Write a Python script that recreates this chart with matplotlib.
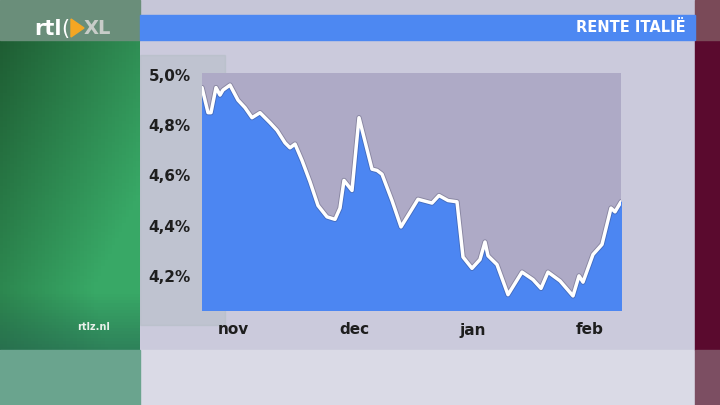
import numpy as np
import matplotlib.pyplot as plt
from matplotlib.patches import Rectangle, Polygon
from matplotlib.ticker import FuncFormatter

# Italian 10y rate (x in days from start of window)
days = [0, 1.5, 2.25, 3.5, 4.5, 5.25, 7, 9, 10.75, 12.5, 14.5, 17, 18.75,
        20.75, 22, 23.25, 25, 27, 29, 31.25, 33.25, 34.5, 35.5, 37.5, 39.25,
        42.5, 43.75, 45, 47.5, 49.75, 54, 57.5, 59.25, 61.5, 63.75, 65.25,
        67.5, 69.5, 70.75, 71.5, 73.75, 76.5, 80, 82.75, 84.75, 86.5, 89.5,
        92.75, 94.25, 95.25, 97.75, 100, 102.25, 103.25, 104.75]
rente = [4.95, 4.85, 4.85, 4.95, 4.92, 4.94, 4.96, 4.90, 4.87, 4.83, 4.85,
         4.81, 4.78, 4.73, 4.71, 4.725, 4.66, 4.575, 4.48, 4.435, 4.425, 4.47,
         4.58, 4.54, 4.83, 4.625, 4.62, 4.605, 4.50, 4.395, 4.505, 4.49, 4.52,
         4.50, 4.495, 4.275, 4.23, 4.265, 4.335, 4.28, 4.245, 4.125, 4.215,
         4.185, 4.15, 4.215, 4.18, 4.12, 4.20, 4.175, 4.285, 4.325, 4.47,
         4.455, 4.495]

month_pos = [7.75, 38, 67.75, 97]
month_labels = ['nov', 'dec', 'jan', 'feb']
y_ticks = [4.2, 4.4, 4.6, 4.8, 5.0]

title = 'RENTE ITALIË'

font = 'DejaVu Sans'

fig = plt.figure(figsize=(7.2, 4.05), dpi=100)

# background layer in pixel coords
bg = fig.add_axes([0, 0, 1, 1])
bg.set_xlim(0, 720)
bg.set_ylim(405, 0)
bg.axis('off')
bg.add_patch(Rectangle((0, 0), 720, 405, color='#cbcadc', zorder=0))
bg.add_patch(Rectangle((140, 350), 555, 55, color='#dadae6', zorder=0.5))
bg.add_patch(Rectangle((140, 0), 555, 15, color='#c6c6d8', zorder=0.5))
bg.add_patch(Rectangle((140, 55), 85, 270, color='#a9b8bc', alpha=0.35, zorder=0.6))

# green strip on the left
h, w = 100, 40
yy, xx = np.mgrid[0:1:h * 1j, 0:1:w * 1j]
dark = np.array([0x1a, 0x50, 0x2a]) / 255
light = np.array([0x38, 0xa8, 0x66]) / 255
low = np.array([0x26, 0x62, 0x50]) / 255
t = np.clip(0.15 + 0.55 * xx + 0.6 * yy - 0.9 * np.clip(yy - 0.8, 0, 1), 0, 1)
img = dark * (1 - t[..., None]) + light * t[..., None]
b = np.clip((yy - 0.82) * 5, 0, 1)[..., None]
img = img * (1 - b * 0.6) + low * b * 0.6
bg.imshow(img, extent=[0, 140, 350, 40], aspect='auto', zorder=1)
bg.add_patch(Rectangle((0, 0), 140, 40, color='#6a8e7a', zorder=1))
bg.add_patch(Rectangle((0, 350), 140, 55, color='#6aa48e', zorder=1))

# magenta strip on the right
bg.add_patch(Rectangle((695, 40), 25, 310, color='#5a0a2e', zorder=1))
bg.add_patch(Rectangle((695, 0), 25, 40, color='#7a4a58', zorder=1))
bg.add_patch(Rectangle((695, 350), 25, 55, color='#7c4e62', zorder=1))

# title banner
bg.add_patch(Rectangle((140, 15), 555, 25, color='#4d88f2', zorder=2))
bg.text(686, 28, title, color='white', fontsize=10.5, fontweight='bold',
        family=font, ha='right', va='center', zorder=3)

# logo
bg.text(34, 29, 'rtl', color='white', fontsize=15, fontweight='bold',
        family=font, ha='left', va='center', zorder=3)
bg.text(61, 29, '(', color='white', fontsize=15, family=font,
        ha='left', va='center', zorder=3)
bg.add_patch(Polygon([[71, 19], [71, 37], [84, 28]], color='#f5a623', zorder=3))
bg.text(84, 29, 'XL', color='#c8ccc8', fontsize=14, fontweight='bold',
        family=font, ha='left', va='center', zorder=3)
bg.text(110, 327, 'rtlz.nl', color='#e8f0ea', fontsize=7, fontweight='bold',
        family=font, ha='right', va='center', zorder=3)

# chart
ax = fig.add_axes([202 / 720, 95 / 405, 419 / 720, 237 / 405])
ax.set_facecolor('#aeaac6')
ax.fill_between(days, rente, 4.0, color='#4c86f2', zorder=1)
ax.plot(days, rente, color='#30304a', lw=3.8, alpha=0.3, zorder=2,
        solid_joinstyle='round', solid_capstyle='round')
ax.plot(days, rente, color='white', lw=2.5, zorder=3,
        solid_joinstyle='round', solid_capstyle='round')
ax.set_xlim(0, 104.75)
ax.set_ylim(4.064, 5.008)

ax.set_yticks(y_ticks)
ax.yaxis.set_major_formatter(FuncFormatter(lambda v, p: f'{v:.1f}%'.replace('.', ',')))
ax.set_xticks(month_pos)
ax.set_xticklabels(month_labels)
ax.tick_params(length=0, labelsize=11, labelcolor='#1e1e1e')
ax.tick_params(axis='y', pad=8)
ax.tick_params(axis='x', pad=9)
for lab in ax.get_xticklabels() + ax.get_yticklabels():
    lab.set_family(font)
    lab.set_fontweight('bold')
for s in ax.spines.values():
    s.set_visible(False)

plt.savefig('out.png', dpi=100)
